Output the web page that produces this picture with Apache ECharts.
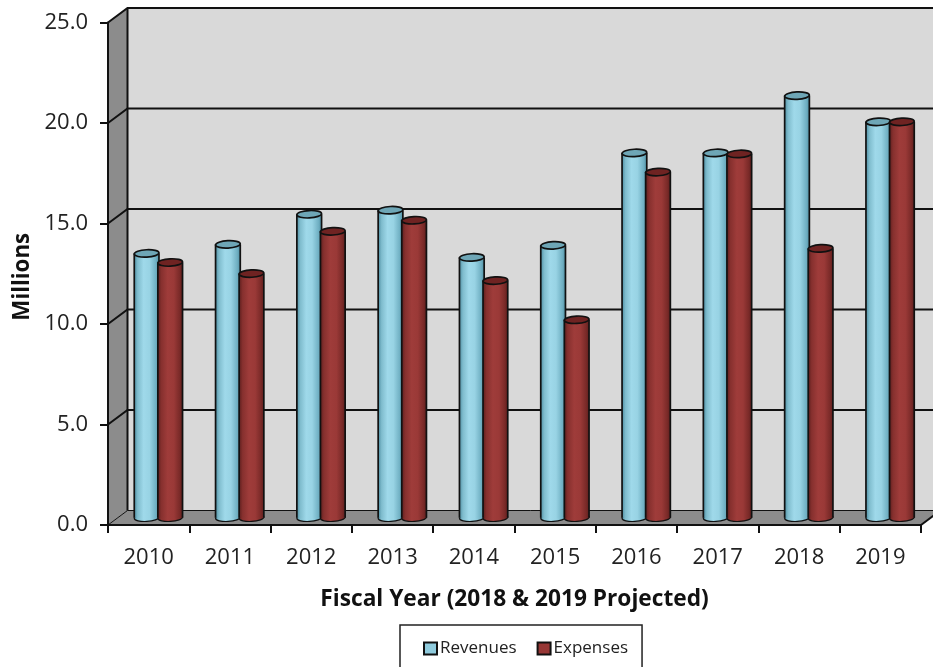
<!DOCTYPE html>
<html>
<head>
<meta charset="utf-8">
<style>html,body{margin:0;padding:0;background:#fff;overflow:hidden}#chart{width:933px;height:667px}</style>
<script src="https://cdn.jsdelivr.net/npm/echarts@6/dist/echarts.min.js"></script>
</head>
<body>
<div id="chart"></div>
<script>
// Fiscal-year figures, in millions
const years = ['2010','2011','2012','2013','2014','2015','2016','2017','2018','2019'];
const revenues = [13.15,13.6,15.1,15.3,12.95,13.55,18.15,18.15,21.0,19.7];
const expenses = [12.7,12.15,14.25,14.8,11.8,9.85,17.2,18.1,13.4,19.7];
const gridValues = [0,5,10,15,20,25];

// Depth of the pseudo-3D box, as an offset from the front plane to the back wall
const DEPTH_X = 19.5, DEPTH_Y = -14.5;
const INK = '#111111';

function hGrad(stops) {
  return {type:'linear',x:0,y:0,x2:1,y2:0,colorStops:stops.map(s=>({offset:s[0],color:s[1]}))};
}
const SKINS = {
  revenue: {
    side: -1,
    body: hGrad([[0,'#4f8fa3'],[0.14,'#7fbccd'],[0.38,'#9fd9ea'],[0.62,'#98d3e4'],[0.88,'#6fafc2'],[1,'#4f8fa3']]),
    lid: '#6ea6b6'
  },
  expense: {
    side: 1,
    body: hGrad([[0,'#5e1f1e'],[0.14,'#86302e'],[0.4,'#9f3c3a'],[0.65,'#9a3937'],[0.88,'#7a2a28'],[1,'#5e1f1e']]),
    lid: '#6f2322'
  }
};

// Walls, floor and gridlines of the box, placed from the value scale
function renderFrame(params, api) {
  const cs = params.coordSys;
  const left = cs.x, frontRight = cs.x + cs.width, right = frontRight + DEPTH_X;
  const y = v => api.coord([0, v])[1];
  const back = v => y(v) + DEPTH_Y;
  const bl = left + DEPTH_X;
  const children = [
    {type:'polygon', shape:{points:[[bl,back(25)],[right,back(25)],[right,back(0)],[bl,back(0)]]},
      style:{fill:'#d9d9d9',stroke:null}},
    {type:'polygon', shape:{points:[[left,y(25)],[bl,back(25)],[bl,back(0)],[left,y(0)]]},
      style:{fill:'#8c8c8c',stroke:null}},
    {type:'polygon', shape:{points:[[left,y(0)],[bl,back(0)],[right,back(0)],[frontRight,y(0)]]},
      style:{fill:'#8c8c8c',stroke:null}}
  ];
  gridValues.forEach(v => {
    children.push({type:'polyline', shape:{points:[[left,y(v)],[bl,back(v)],[right,back(v)]]},
      style:{fill:null,stroke:INK,lineWidth:v===0?1:2}});
  });
  children.push({type:'line', shape:{x1:bl,y1:back(25),x2:bl,y2:back(0)}, style:{stroke:INK,lineWidth:2}});
  children.push({type:'line', shape:{x1:frontRight,y1:y(0),x2:right,y2:back(0)}, style:{stroke:INK,lineWidth:2}});
  return {type:'group', children};
}

// One cylinder standing at mid depth of the box
function cylinder(skin) {
  return function (params, api) {
    const cat = api.value(0), val = api.value(1);
    const band = api.size([1,0])[0];
    const top = api.coord([cat,val]);
    const base = api.coord([cat,0]);
    const cx = top[0] + DEPTH_X/2 + skin.side*band*0.145;
    const ty = top[1] + DEPTH_Y/2, by = base[1] + DEPTH_Y/2;
    const rx = band*0.152, ry = 3.7, tilt = 0.05;
    const edge = {stroke:INK,lineWidth:1.7};
    return {type:'group', children:[
      {type:'ellipse', shape:{cx,cy:by,rx,ry}, rotation:tilt, originX:cx, originY:by,
        style:{fill:skin.body,stroke:INK,lineWidth:1.2}},
      {type:'rect', shape:{x:cx-rx,y:ty,width:2*rx,height:by-ty}, style:{fill:skin.body,stroke:null}},
      {type:'line', shape:{x1:cx-rx,y1:ty,x2:cx-rx,y2:by}, style:edge},
      {type:'line', shape:{x1:cx+rx,y1:ty,x2:cx+rx,y2:by}, style:edge},
      {type:'ellipse', shape:{cx,cy:ty,rx,ry}, rotation:tilt, originX:cx, originY:ty,
        style:{fill:skin.lid,stroke:INK,lineWidth:1.7}}
    ]};
  };
}

const FONT = '"Open Sans"';
const chart = echarts.init(document.getElementById('chart'), null, {renderer:'canvas'});
chart.setOption({
  animation:false,
  backgroundColor:'#ffffff',
  grid:{left:108,right:12,top:22.5,height:502.5,containLabel:false,outerBoundsMode:'none'},
  xAxis:{
    type:'category', data:years, z:3,
    boundaryGap:true,
    name:'Fiscal Year (2018 & 2019 Projected)', nameLocation:'middle', nameGap:63,
    nameTextStyle:{fontFamily:FONT,fontSize:22.7,fontWeight:'bold',color:'#111'},
    axisLine:{show:true,lineStyle:{color:INK,width:2}},
    axisTick:{show:true,length:8,lineStyle:{color:INK,width:2},alignWithLabel:false},
    axisLabel:{fontFamily:FONT,fontSize:22,color:'#222',margin:22,interval:0},
    splitLine:{show:false}
  },
  yAxis:{
    type:'value', min:0, max:25, interval:5, z:3,
    name:'Millions', nameLocation:'middle', nameGap:74,
    nameTextStyle:{fontFamily:FONT,fontSize:22.3,fontWeight:'bold',color:'#111',padding:[0,6,0,0]},
    axisLine:{show:true,lineStyle:{color:INK,width:2}},
    axisTick:{show:true,length:8,lineStyle:{color:INK,width:2}},
    axisLabel:{fontFamily:FONT,fontSize:22,color:'#222',margin:20,padding:[2,0,0,0],formatter:v=>v.toFixed(1)},
    splitLine:{show:false}
  },
  legend:{
    left:400, top:625, orient:'horizontal', itemGap:20,
    padding:[15,14,40,23], itemWidth:13, itemHeight:12,
    backgroundColor:'#ffffff', borderColor:'#222', borderWidth:1.5,
    textStyle:{fontFamily:FONT,fontSize:17,color:'#222',padding:[0,0,0,-2]},
    data:[
      {name:'Revenues',icon:'rect',itemStyle:{color:'#8fcbdd',borderColor:INK,borderWidth:2}},
      {name:'Expenses',icon:'rect',itemStyle:{color:'#973735',borderColor:INK,borderWidth:2}}
    ]
  },
  series:[
    {type:'custom',name:'frame',z:1,silent:true,renderItem:renderFrame,data:[[0,0]],encode:{x:0,y:1}},
    {type:'custom',name:'Revenues',z:4,renderItem:cylinder(SKINS.revenue),itemStyle:{color:'#8fcbdd'},
      data:revenues.map((v,i)=>[i,v]),encode:{x:0,y:1}},
    {type:'custom',name:'Expenses',z:5,renderItem:cylinder(SKINS.expense),itemStyle:{color:'#973735'},
      data:expenses.map((v,i)=>[i,v]),encode:{x:0,y:1}}
  ]
});
</script>
</body>
</html>
